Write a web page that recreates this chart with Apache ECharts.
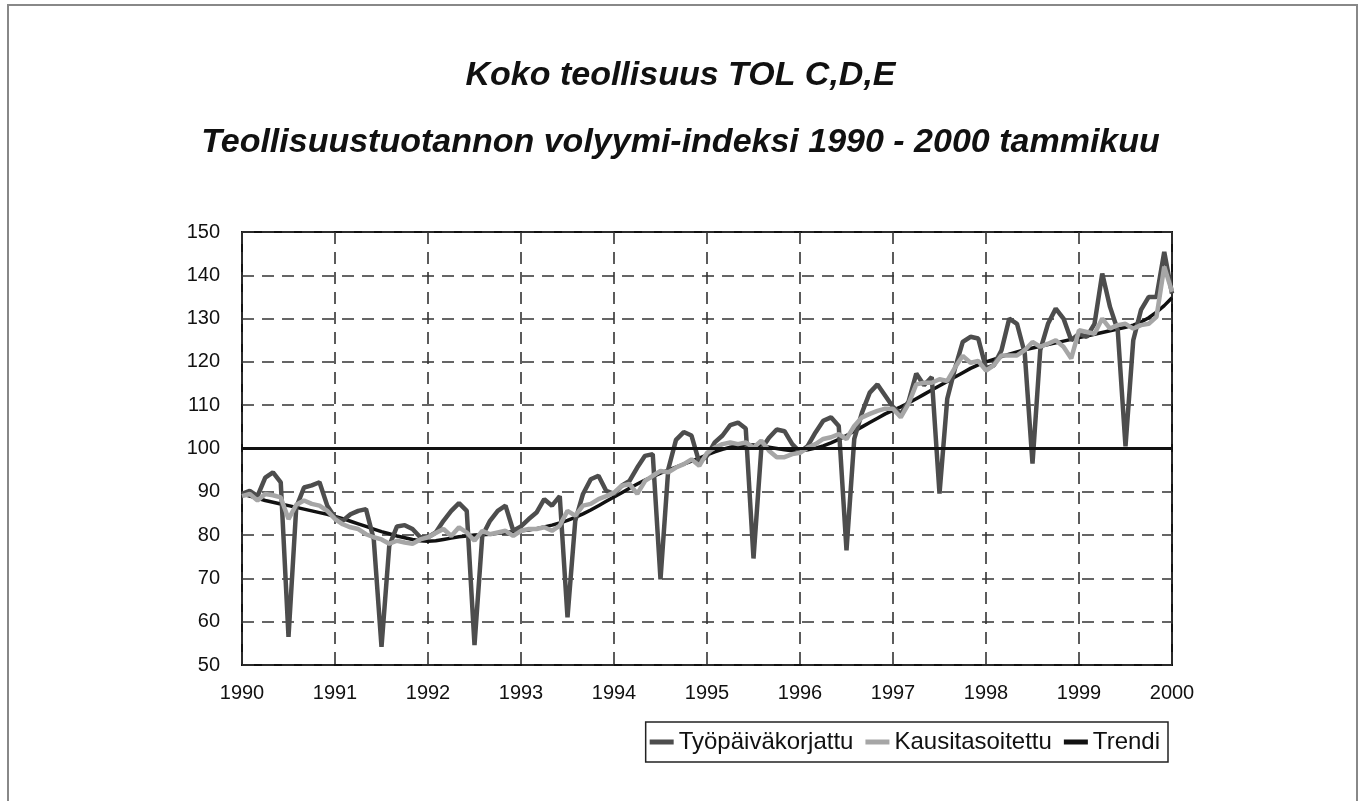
<!DOCTYPE html>
<html lang="fi">
<head>
	<meta charset="UTF-8">
	<title>Koko teollisuus TOL C,D,E</title>
	<script src="https://cdn.jsdelivr.net/npm/echarts@6/dist/echarts.min.js"></script>
	<style>
		html, body { margin: 0; padding: 0; background: #fff; }
	</style>
</head>
<body>
	<div id="main" style="width: 1361px; height: 801px;"></div>
	<script type="text/javascript">
	var years = ['1990', '1991', '1992', '1993', '1994', '1995', '1996', '1997', '1998', '1999', '2000'];

	// monthly values, Jan 1990 ... Jan 2000
	var tyopaiva = [
		89.5, 90.2, 89.0, 93.3, 94.5, 92.2, 56.5, 86.4, 91.0, 91.5, 92.2, 86.8,
		84.0, 83.3, 84.8, 85.6, 86.0, 79.0, 54.2, 77.5, 82.0, 82.3, 81.4, 79.5,
		79.5, 80.6, 83.3, 85.6, 87.4, 85.6, 54.6, 79.8, 83.3, 85.6, 86.8, 81.0,
		82.0, 83.7, 85.2, 88.3, 86.8, 89.0, 61.0, 83.3, 89.5, 92.9, 93.7, 90.2,
		89.5, 91.4, 92.5, 95.6, 98.3, 98.7, 69.8, 95.2, 102.0, 103.8, 103.0, 96.8,
		98.3, 101.4, 103.0, 105.4, 106.0, 104.6, 74.6, 99.8, 102.5, 104.4, 104.0, 101.0,
		99.2, 100.6, 103.7, 106.4, 107.2, 105.2, 76.5, 102.2, 108.3, 112.9, 114.8, 112.2,
		109.6, 108.0, 110.8, 117.3, 114.6, 116.5, 89.6, 111.5, 118.5, 124.6, 125.8, 125.4,
		118.5, 119.2, 122.7, 130.0, 128.8, 122.0, 96.5, 122.7, 128.8, 132.3, 130.0, 125.0,
		126.5, 125.8, 128.8, 140.4, 132.7, 127.3, 100.5, 125.0, 132.0, 135.0, 135.0, 145.4,
		135.8
	];
	var kausi = [
		89.0, 89.5, 88.0, 89.5, 89.2, 88.7, 83.7, 87.0, 88.0, 87.2, 86.8, 85.6,
		83.7, 82.5, 81.8, 81.4, 80.2, 79.5, 79.0, 78.0, 78.7, 78.3, 78.0, 79.0,
		79.5, 80.5, 81.4, 79.8, 81.8, 80.6, 78.7, 81.0, 80.2, 80.6, 81.0, 79.8,
		81.0, 81.4, 81.4, 81.8, 81.0, 82.2, 85.6, 84.5, 86.8, 87.2, 88.3, 89.0,
		89.8, 91.4, 91.8, 89.5, 92.5, 93.7, 94.8, 94.5, 95.6, 96.4, 97.5, 96.0,
		99.0, 100.2, 101.0, 101.4, 101.0, 101.4, 100.2, 101.8, 99.5, 98.0, 98.0, 98.7,
		99.0, 100.2, 101.0, 102.2, 102.6, 103.3, 102.2, 105.2, 107.2, 108.0, 108.7, 109.2,
		109.2, 107.2, 110.3, 114.8, 115.2, 115.2, 116.0, 115.6, 118.7, 121.4, 119.8, 120.2,
		118.0, 119.2, 121.5, 121.5, 121.5, 122.7, 124.6, 123.5, 124.2, 125.0, 123.5, 120.8,
		127.3, 126.9, 126.5, 130.0, 127.7, 128.5, 128.8, 127.7, 128.5, 128.8, 130.4, 142.0,
		136.2
	];
	var trendi = [
		89.5, 89.0, 88.5, 88.0, 87.6, 87.2, 86.8, 86.4, 86.0, 85.6, 85.2, 84.8,
		84.3, 83.8, 83.2, 82.6, 82.0, 81.4, 80.8, 80.3, 79.8, 79.4, 79.0, 78.7,
		78.6, 78.7, 79.0, 79.3, 79.6, 79.8, 80.0, 80.1, 80.2, 80.4, 80.6, 80.8,
		81.0, 81.2, 81.5, 81.9, 82.3, 82.8, 83.4, 84.1, 84.9, 85.8, 86.8, 87.8,
		88.8, 89.8, 90.8, 91.8, 92.7, 93.5, 94.3, 95.0, 95.7, 96.4, 97.1, 97.8,
		98.5, 99.2, 99.8, 100.3, 100.6, 100.8, 100.8, 100.6, 100.3, 100.0, 99.7, 99.5,
		99.5, 99.7, 100.1, 100.6, 101.3, 102.1, 103.0, 104.0, 105.0, 106.0, 107.0, 108.0,
		108.8, 109.6, 110.5, 111.5, 112.5, 113.5, 114.5, 115.5, 116.5, 117.5, 118.5, 119.3,
		120.0, 120.6, 121.2, 121.8, 122.3, 122.8, 123.2, 123.6, 124.0, 124.4, 124.8, 125.2,
		125.6, 126.0, 126.4, 126.8, 127.2, 127.6, 128.0, 128.5, 129.2, 130.2, 131.5, 133.0,
		134.8
	];

	// category per month, label only on January
	var months = [];
	for (var y = 0; y < years.length; y++) {
		for (var m = 1; m <= 12; m++) {
			if (y === years.length - 1 && m > 1) break;
			months.push(years[y] + '-' + (m < 10 ? '0' + m : m));
		}
	}

	var font = '"Liberation Sans", Arial, sans-serif';
	var dashed = { color: '#333', width: 1.6, type: [12, 8] };

	var option = {
		backgroundColor: '#fff',
		animation: false,
		textStyle: { fontFamily: font },
		title: [
			{
				text: 'Koko teollisuus TOL C,D,E',
				left: 'center', top: 54,
				textStyle: { fontSize: 34, fontWeight: 'bold', fontStyle: 'italic', color: '#111', fontFamily: font }
			},
			{
				text: 'Teollisuustuotannon volyymi-indeksi 1990 - 2000 tammikuu',
				left: 'center', top: 121,
				textStyle: { fontSize: 34, fontWeight: 'bold', fontStyle: 'italic', color: '#111', fontFamily: font }
			}
		],
		graphic: [{
			type: 'rect',
			shape: { x: 8, y: 5, width: 1349, height: 830 },
			style: { fill: 'none', stroke: '#888', lineWidth: 2 },
			silent: true
		}],
		legend: {
			right: 193, top: 722,
			padding: [8, 8, 8, 4],
			borderColor: '#222', borderWidth: 1.5,
			icon: 'rect',
			itemWidth: 24, itemHeight: 5, itemGap: 12,
			textStyle: { fontSize: 24, color: '#111', fontFamily: font },
			data: ['Työpäiväkorjattu', 'Kausitasoitettu', 'Trendi']
		},
		grid: {
			left: 242, right: 189, top: 232, bottom: 136,
			show: true, borderColor: '#111', borderWidth: 2, backgroundColor: 'transparent'
		},
		xAxis: {
			type: 'category',
			data: months,
			boundaryGap: false,
			axisLine: { show: false },
			axisTick: { show: false },
			axisLabel: {
				interval: 11, margin: 18, fontSize: 20, color: '#111',
				formatter: function (v) { return v.slice(0, 4); }
			},
			splitLine: { show: true, interval: 11, lineStyle: dashed }
		},
		yAxis: {
			type: 'value',
			min: 50, max: 150, interval: 10,
			axisLine: { show: false },
			axisTick: { show: false },
			axisLabel: { fontSize: 20, color: '#111', margin: 22 },
			splitLine: { show: true, lineStyle: dashed }
		},
		series: [
			{
				name: 'Työpäiväkorjattu',
				type: 'line',
				data: tyopaiva,
				symbol: 'none',
				color: '#4d4d4d',
				lineStyle: { width: 4.5, color: '#4d4d4d' },
				z: 3
			},
			{
				name: 'Kausitasoitettu',
				type: 'line',
				data: kausi,
				symbol: 'none',
				color: '#a6a6a6',
				lineStyle: { width: 4.5, color: '#a6a6a6' },
				z: 4
			},
			{
				name: 'Trendi',
				type: 'line',
				data: trendi,
				symbol: 'none',
				color: '#111',
				lineStyle: { width: 3.5, color: '#111' },
				z: 2,
				markLine: {
					silent: true,
					symbol: 'none',
					label: { show: false },
					lineStyle: { color: '#111', width: 3, type: 'solid' },
					data: [{ yAxis: 100 }]
				}
			}
		]
	};

	var chart = echarts.init(document.getElementById('main'));
	chart.setOption(option);
	</script>
</body>
</html>
